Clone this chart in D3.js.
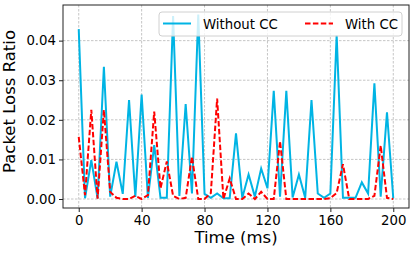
<!DOCTYPE html>
<html>
<head>
<meta charset="utf-8">
<script src="https://cdn.jsdelivr.net/npm/d3@7"></script>
<style>
  body { margin: 0; background: #fff; }
  text { font-family: "DejaVu Sans", sans-serif; }
</style>
</head>
<body>
<div id="loss-chart-container"></div>
<script>
// data: one sample every 4 ms
var timeMs = d3.range(0, 201, 4);

var withoutCC = [
    0.0429, 0.0002, 0.0098, 0.0002, 0.0334, 0.0006, 0.0094, 0.0013, 0.0250, 0.0005,
    0.0264, 0.0003, 0.0136, 0.0003, 0.0003, 0.0462, 0.0008, 0.0240, 0.0014, 0.0466,
    0.0013, 0.0003, 0.0014, 0.0002, 0.0002, 0.0166, 0.0003, 0.0062, 0.0006, 0.0077,
    0.0027, 0.0273, 0.0006, 0.0273, 0.0004, 0.0062, 0.0003, 0.0250, 0.0014, 0.0003,
    0.0014, 0.0414, 0.0003, 0.0003, 0.0003, 0.0042, 0.0014, 0.0292, 0.0006, 0.0219,
    0.0002
];

var withCC = [
    0.0157, 0.0010, 0.0225, 0.0001, 0.0225, 0.0018, 0.0003, 0.0000, 0.0000, 0.0008,
    0.0000, 0.0010, 0.0221, 0.0027, 0.0095, 0.0008, 0.0000, 0.0003, 0.0107, 0.0000,
    0.0000, 0.0015, 0.0254, 0.0000, 0.0052, 0.0000, 0.0000, 0.0014, 0.0000, 0.0018,
    0.0000, 0.0000, 0.0146, 0.0000, 0.0000, 0.0000, 0.0000, 0.0000, 0.0000, 0.0000,
    0.0002, 0.0015, 0.0088, 0.0000, 0.0000, 0.0000, 0.0000, 0.0008, 0.0135, 0.0003,
    0.0000
];

var xTicks = [0, 40, 80, 120, 160, 200];
var yTicks = [0.00, 0.01, 0.02, 0.03, 0.04];

var seriesNames = ["Without CC", "With CC"];
var seriesColors = ["#00b4e4", "#ff0000"];

// dimensions
var svgWidth = 415;
var svgHeight = 253;
var margin = { top: 5, right: 6, bottom: 45, left: 63 };
var width = svgWidth - margin.left - margin.right;
var height = svgHeight - margin.top - margin.bottom;

var svg = d3.select("#loss-chart-container")
    .append("svg")
        .attr("width", svgWidth)
        .attr("height", svgHeight)
    .append("g")
        .attr("transform", `translate(${margin.left}, ${margin.top})`);

// scales (matplotlib style 5% padding)
var x = d3.scaleLinear().domain([-10, 210]).range([0, width]);
var y = d3.scaleLinear().domain([-0.00227, 0.0490]).range([height, 0]);

// grid
svg.append("g")
    .selectAll("line")
    .data(xTicks)
    .enter().append("line")
        .attr("x1", d => x(d)).attr("x2", d => x(d))
        .attr("y1", 0).attr("y2", height)
        .attr("stroke", "#b8b8b8")
        .attr("stroke-width", 0.8)
        .attr("stroke-dasharray", "2.5,1.5");

svg.append("g")
    .selectAll("line")
    .data(yTicks)
    .enter().append("line")
        .attr("x1", 0).attr("x2", width)
        .attr("y1", d => y(d)).attr("y2", d => y(d))
        .attr("stroke", "#b8b8b8")
        .attr("stroke-width", 0.8)
        .attr("stroke-dasharray", "2.5,1.5");

// axes
var xAxis = d3.axisBottom(x).tickValues(xTicks).tickSize(4).tickPadding(4).tickFormat(d3.format("d"));
var yAxis = d3.axisLeft(y).tickValues(yTicks).tickSize(4).tickPadding(3).tickFormat(d3.format(".2f"));

svg.append("g")
    .attr("transform", "translate(0," + height + ")")
    .call(xAxis);
svg.append("g")
    .call(yAxis);

svg.selectAll(".tick text")
    .attr("font-size", 13.3)
    .attr("fill", "#000");
svg.selectAll(".tick line").attr("stroke", "#222");
svg.selectAll(".domain").remove();

// lines
var line = d3.line()
    .x((d, i) => x(timeMs[i]))
    .y(d => y(d));

svg.append("path")
    .datum(withoutCC)
    .attr("d", line)
    .attr("fill", "none")
    .attr("stroke", seriesColors[0])
    .attr("stroke-width", 2)
    .attr("stroke-linejoin", "miter");

svg.append("path")
    .datum(withCC)
    .attr("d", line)
    .attr("fill", "none")
    .attr("stroke", seriesColors[1])
    .attr("stroke-width", 2)
    .attr("stroke-dasharray", "5.5,2.4");

// frame
svg.append("rect")
    .attr("width", width)
    .attr("height", height)
    .attr("fill", "none")
    .attr("stroke", "#222")
    .attr("stroke-width", 1);

// axis labels
svg.append("text")
    .attr("x", x(100))
    .attr("y", height + 35)
    .attr("text-anchor", "middle")
    .attr("font-size", 16.5)
    .text("Time (ms)");

svg.append("text")
    .attr("transform", `translate(${-48}, ${height / 2 - 5}) rotate(-90)`)
    .attr("text-anchor", "middle")
    .attr("font-size", 16.5)
    .text("Packet Loss Ratio");

// legend
var legend = svg.append("g")
    .attr("transform", `translate(${159 - margin.left}, ${12 - margin.top})`);

legend.append("rect")
    .attr("width", 243)
    .attr("height", 24)
    .attr("rx", 3)
    .attr("fill", "#fff")
    .attr("fill-opacity", 0.8)
    .attr("stroke", "#d0d0d0")
    .attr("stroke-width", 1);

var legendX = [4, 146];
seriesNames.forEach(function(name, i) {
    legend.append("line")
        .attr("x1", legendX[i]).attr("x2", legendX[i] + 28)
        .attr("y1", 11.5).attr("y2", 11.5)
        .attr("stroke", seriesColors[i])
        .attr("stroke-width", 2)
        .attr("stroke-dasharray", i == 1 ? "5.5,2.4" : null);
    legend.append("text")
        .attr("x", legendX[i] + 40)
        .attr("y", 16.5)
        .attr("font-size", 13.3)
        .text(name);
});
</script>
</body>
</html>
